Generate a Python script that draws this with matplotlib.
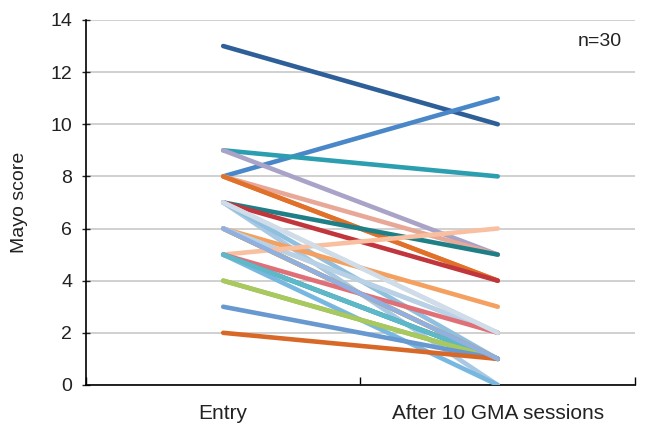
import matplotlib
matplotlib.use('Agg')
import matplotlib.pyplot as plt

plt.rcParams['font.family'] = ['Liberation Sans', 'DejaVu Sans']

# Data: Mayo score per patient at entry and after 10 GMA sessions
categories = ['Entry', 'After 10 GMA sessions']
entry = [13, 8, 9, 9, 8, 8, 8, 7, 7, 7, 7, 7, 6, 6, 6, 6, 6, 6, 5, 5, 5, 5, 5, 5, 4, 4, 3, 2, 7, 6]
after = [10, 11, 8, 5, 4, 5, 4, 5, 4, 2, 0, 1, 3, 2, 1, 1, 1, 2, 6, 1, 2, 1, 0, 1, 1, 1, 1, 1, 2, 1]
colors = ['#2f5f98', '#4a87c8', '#2b9fb0', '#aaa3c8', '#e8822a', '#e8a898', '#e0702a',
          '#1f7f86', '#c0363c', '#c8d8e8', '#a8c8e4', '#90c0e0', '#f4a060', '#c8e0a0',
          '#7a9a3a', '#d8d870', '#f09030', '#b8d0e8', '#f8c0a0', '#3ab0d0', '#e07078',
          '#40a8b8', '#78b8e0', '#5fb8c8', '#9ab83c', '#a8c860', '#6898d0', '#d86828',
          '#d0dce8', '#8fb0e0']

fig = plt.figure(figsize=(6.46, 4.34), dpi=100)
ax = fig.add_axes([0.133, 0.113, 0.85, 0.841])

x = [0.5, 1.5]
for e, a, c in zip(entry, after, colors):
    ax.plot(x, [e, a], color=c, lw=3.3, solid_capstyle='round', zorder=3)

ax.set_xlim(0, 2)
ax.set_ylim(0, 14)
ax.set_yticks(range(0, 15, 2))
ax.yaxis.grid(True, color='#c8c8c8', lw=1.2)
ax.set_axisbelow(True)

ax.set_xticks([0, 1, 2])
ax.set_xticklabels([])
ax.set_xticks(x, minor=True)
ax.set_xticklabels(categories, minor=True)
ax.tick_params(axis='x', which='minor', length=0, pad=14, labelsize=15, colors='#222222')
ax.tick_params(axis='x', which='major', length=6, direction='in', width=1)
ax.tick_params(axis='y', length=6, width=1, direction='inout', pad=7,
               labelsize=14, colors='#222222')

for s in ['top', 'right']:
    ax.spines[s].set_visible(False)
ax.spines['left'].set_linewidth(1.2)
ax.spines['bottom'].set_linewidth(1.2)

ax.set_ylabel('Mayo score', fontsize=14, color='#222222', labelpad=16)
ax.text(0.976, 0.94, 'n=30', transform=ax.transAxes, ha='right', va='center',
        fontsize=14, color='#222222')

fig.savefig('out.png', dpi=100)
